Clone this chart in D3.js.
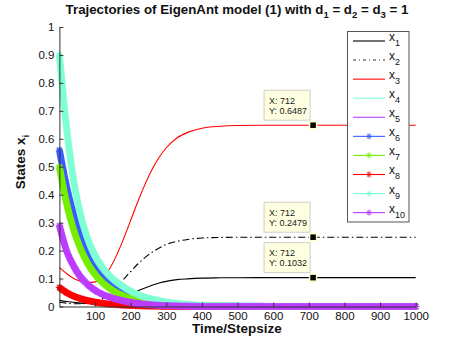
<!DOCTYPE html>
<html><head><meta charset="utf-8">
<script src="https://cdn.jsdelivr.net/npm/d3@7"></script>
<style>
html,body{margin:0;padding:0;background:#fff;}
svg{display:block;font-family:"Liberation Sans",Arial,Helvetica,sans-serif;}
</style></head>
<body>
<svg id="chart" width="458" height="345"></svg>
<script>
// ---- data ----
const steps = [0,20,40,60,80,100,120,140,160,180,200,220,240,260,280,300,330,360,400,450,500,600,700,800,900,1000];
const x1  = [0.022,0.018,0.015,0.012,0.011,0.011,0.013,0.018,0.025,0.034,0.044,0.056,0.0665,0.076,0.084,0.090,0.096,0.099,0.1015,0.1026,0.103,0.1032,0.1032,0.1032,0.1032,0.1032];
const x2  = [0.015,0.012,0.010,0.010,0.012,0.017,0.028,0.045,0.068,0.097,0.125,0.152,0.175,0.194,0.209,0.222,0.233,0.240,0.245,0.247,0.2477,0.2479,0.2479,0.2479,0.2479,0.2479];
const x3  = [0.140,0.118,0.100,0.090,0.086,0.088,0.100,0.133,0.182,0.242,0.308,0.375,0.436,0.490,0.534,0.568,0.603,0.623,0.638,0.645,0.6478,0.6487,0.6487,0.6487,0.6487,0.6487];
const x4  = [0.88,0.64,0.47,0.35,0.265,0.205,0.16,0.125,0.098,0.077,0.060,0.047,0.037,0.029,0.022,0.017,0.012,0.008,0.005,0.003,0.002,0.001,0,0,0,0];
const x5  = [0.30,0.215,0.155,0.112,0.082,0.061,0.046,0.035,0.027,0.021,0.016,0.012,0.009,0.006,0.005,0.003,0.002,0.001,0,0,0,0,0,0,0,0];
const x6  = [0.56,0.43,0.33,0.25,0.19,0.145,0.112,0.087,0.068,0.053,0.041,0.032,0.025,0.019,0.015,0.011,0.008,0.005,0.003,0.0015,0.001,0,0,0,0,0];
const x7  = [0.50,0.37,0.275,0.205,0.153,0.115,0.087,0.066,0.050,0.038,0.029,0.022,0.017,0.013,0.010,0.007,0.005,0.003,0.002,0.001,0,0,0,0,0,0];
const x8  = [0.068,0.050,0.037,0.028,0.021,0.016,0.012,0.009,0.007,0.005,0.004,0.003,0.002,0.0015,0.001,0,0,0,0,0,0,0,0,0,0,0];
const x9  = [0.90,0.64,0.45,0.325,0.24,0.18,0.14,0.11,0.088,0.070,0.055,0.043,0.034,0.027,0.021,0.016,0.011,0.007,0.004,0.002,0.001,0,0,0,0,0];
const x10 = [0.29,0.20,0.145,0.105,0.078,0.058,0.044,0.034,0.026,0.020,0.015,0.011,0.008,0.006,0.004,0.003,0.002,0.001,0,0,0,0,0,0,0,0];
const seriesNames = ["1","2","3","4","5","6","7","8","9","10"];
const xTicks = [100,200,300,400,500,600,700,800,900,1000];
const yTicks = [0,0.1,0.2,0.3,0.4,0.5,0.6,0.7,0.8,0.9,1];
const tipX = 712;
const tipY = [0.6487, 0.2479, 0.1032];

const seriesData = [x1,x2,x3,x4,x5,x6,x7,x8,x9,x10];
const colors = ["#000000","#000000","#ff0000","#7fffd4","#bf3eff","#3a5cff","#76ee00","#ff0000","#7fffd4","#bb3cff"];
const dashes = [null,"7,3,1.5,3",null,null,null,null,null,null,null,null];
const markers = [false,false,false,false,false,true,true,true,true,true];

// ---- layout ----
const svg = d3.select("#chart");
const x = d3.scaleLinear().domain([0,1000]).range([59.4,415.7]);
const y = d3.scaleLinear().domain([0,1]).range([306.5,27]);

const line = d3.line().x((d,i)=>x(steps[i])).y(d=>y(d)).curve(d3.curveMonotoneX);

function starPath(cx,cy,r){
  const r2 = r*0.72;
  return `M${cx-r},${cy}h${2*r}M${cx},${cy-r}v${2*r}M${cx-r2},${cy-r2}l${2*r2},${2*r2}M${cx-r2},${cy+r2}l${2*r2},${-2*r2}`;
}

const plot = svg.append("g");
seriesData.forEach((vals,k)=>{
  const p = plot.append("path").datum(vals)
    .attr("d", line)
    .attr("fill","none")
    .attr("stroke", colors[k])
    .attr("stroke-width", markers[k] ? 4.2 : 1.1)
    .attr("stroke-linecap", markers[k] ? "round" : "butt");
  if (dashes[k]) p.attr("stroke-dasharray", dashes[k]);
  if (markers[k]) {
    const node = p.node();
    const L = node.getTotalLength();
    let d = "";
    for (let s=0; s<=L; s+=1.5) {
      const pt = node.getPointAtLength(s);
      d += starPath(pt.x, pt.y, 3.6);
    }
    const pt = node.getPointAtLength(L);
    d += starPath(pt.x, pt.y, 3.6);
    plot.append("path").attr("d", d).attr("fill","none")
      .attr("stroke", colors[k]).attr("stroke-width", 1.1);
  }
});

// ---- axes ----
const fmt = v => (v===0 ? "0" : v===1 ? "1" : v.toFixed(1));
const gy = svg.append("g").attr("transform",`translate(${x(0)},0)`)
  .call(d3.axisLeft(y).tickValues(yTicks).tickFormat(fmt).tickSize(-4).tickSizeOuter(0).tickPadding(5));
const gx = svg.append("g").attr("transform",`translate(0,${y(0)})`)
  .call(d3.axisBottom(x).tickValues(xTicks).tickFormat(d3.format("d")).tickSize(-4).tickSizeOuter(0).tickPadding(5));
[gx,gy].forEach(g=>{
  g.selectAll("path.domain").attr("stroke","#333").attr("stroke-width",1);
  g.selectAll(".tick line").attr("stroke","#333");
  g.selectAll(".tick text").attr("fill","#111").style("font-size","11.5px").style("font-family","'Liberation Sans',Arial,sans-serif");
});

// ---- data tips ----
tipY.forEach(v=>{
  const px = x(tipX), py = y(v);
  const bw = 46, bh = 30;
  const bx = px - 3 - bw, by = py - 5 - bh;
  const g = svg.append("g");
  g.append("rect").attr("x",bx).attr("y",by).attr("width",bw).attr("height",bh)
    .attr("fill","#ffffe1").attr("stroke","#cfcfc4").attr("stroke-width",1);
  g.append("text").attr("x",bx+5).attr("y",by+13.5).text("X: "+tipX)
    .style("font-size","9px").attr("fill","#222");
  g.append("text").attr("x",bx+5).attr("y",by+23.5).text("Y: "+v.toFixed(4))
    .style("font-size","9px").attr("fill","#222");
  g.append("rect").attr("x",px-3.5).attr("y",py-3.5).attr("width",7).attr("height",7)
    .attr("fill","#000").attr("stroke","#ffffc8").attr("stroke-width",1.5);
});

// ---- legend ----
const lg = svg.append("g");
lg.append("rect").attr("x",347.5).attr("y",31.5).attr("width",61.5).attr("height",190.5)
  .attr("fill","#fff").attr("stroke","#555").attr("stroke-width",1);
seriesNames.forEach((nm,k)=>{
  const ly = 41 + k*19.07;
  const l = lg.append("line").attr("x1",353).attr("x2",385).attr("y1",ly).attr("y2",ly)
    .attr("stroke",colors[k]).attr("stroke-width",1.1);
  if (dashes[k]) l.attr("stroke-dasharray","3,3,1,3").attr("stroke","#333");
  if (markers[k]) lg.append("path").attr("d",starPath(369,ly,3)).attr("fill","none")
    .attr("stroke",colors[k]).attr("stroke-width",1);
  const t = lg.append("text").attr("x",389).attr("y",ly).style("font-size","12px").attr("fill","#111");
  t.append("tspan").text("x");
  t.append("tspan").attr("dy",5).style("font-size","9px").text(nm);
});

// ---- title and labels ----
const title = svg.append("text").attr("x",237).attr("y",14).attr("text-anchor","middle")
  .style("font-size","13.3px").style("font-weight","bold").attr("fill","#111");
const parts = [["Trajectories of EigenAnt model (1) with d",false],["1",true],[" = d",false],["2",true],[" = d",false],["3",true],[" = 1",false]];
parts.forEach(([s,sub],i)=>{
  const ts = title.append("tspan").text(s);
  if (sub) ts.attr("dy",4).style("font-size","9.5px");
  else if (i>0) ts.attr("dy",-4);
});

svg.append("text").attr("x",237).attr("y",333).attr("text-anchor","middle")
  .style("font-size","13.5px").style("font-weight","bold").attr("fill","#111").text("Time/Stepsize");

const yl = svg.append("text").attr("transform","translate(25,162) rotate(-90)").attr("text-anchor","middle")
  .style("font-size","13.5px").style("font-weight","bold").attr("fill","#111");
yl.append("tspan").text("States x");
yl.append("tspan").attr("dy",4).style("font-size","9.5px").text("i");
</script>
</body></html>
